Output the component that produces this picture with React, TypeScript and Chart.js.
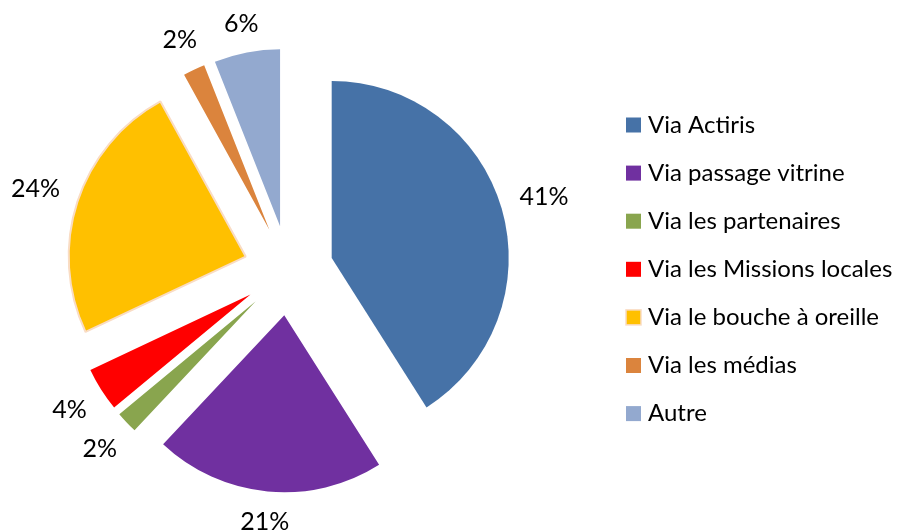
import React, { useEffect, useRef } from 'react';
import { Chart, registerables } from 'chart.js';

Chart.register(...registerables);

// ---- data ----
const categories = [
  'Via Actiris',
  'Via passage vitrine',
  'Via les partenaires',
  'Via les Missions locales',
  'Via le bouche à oreille',
  'Via les médias',
  'Autre',
];
const shares = [41, 21, 2, 4, 24, 2, 6];
const sliceColors = ['#4672A7', '#7030A0', '#89A54E', '#FF0000', '#FFC000', '#DB843D', '#93A9CF'];
const sliceBorderColors = ['#4672A7', '#7030A0', '#89A54E', '#FF0000', '#F9DCC4', '#DB843D', '#93A9CF'];
const sliceBorderWidths = [0, 0, 0, 0, 2, 0, 0];

// ---- styles ----
const FONT = 'Lato, "Open Sans", "DejaVu Sans", sans-serif';
const EXPLODE = 45;
const RADIUS = 177;
const LABEL_SIZE = 25;
const LABEL_GAP = 18;
const LEGEND_SIZE = 24;
const LEGEND_BOX_X = 626;
const LEGEND_FIRST_Y = 125;
const LEGEND_STEP = 48.1;
const LEGEND_BOX = 15;
const LEGEND_TEXT_X = 648;

const explodePlugin = {
  id: 'explodeSlices',
  beforeDatasetDraw(chart: any, args: any) {
    const ctx = chart.ctx;
    args.meta.data.forEach((arc: any) => {
      const mid = (arc.startAngle + arc.endAngle) / 2;
      ctx.save();
      ctx.translate(Math.cos(mid) * EXPLODE, Math.sin(mid) * EXPLODE);
      arc.draw(ctx, chart.chartArea);
      ctx.restore();
    });
    return false;
  },
};

const percentLabelPlugin = {
  id: 'percentLabels',
  afterDatasetsDraw(chart: any) {
    const ctx = chart.ctx;
    const meta = chart.getDatasetMeta(0);
    const values: number[] = chart.data.datasets[0].data;
    const total = values.reduce((a, b) => a + b, 0);
    ctx.save();
    ctx.font = `${LABEL_SIZE}px ${FONT}`;
    ctx.fillStyle = '#000000';
    ctx.textAlign = 'center';
    ctx.textBaseline = 'alphabetic';
    const capH = LABEL_SIZE * 0.72;
    meta.data.forEach((arc: any, i: number) => {
      const mid = (arc.startAngle + arc.endAngle) / 2;
      const ux = Math.cos(mid);
      const uy = Math.sin(mid);
      const text = `${Math.round((values[i] / total) * 100)}%`;
      const w = ctx.measureText(text).width;
      const ext = (Math.abs(ux) * w + Math.abs(uy) * capH) / 2;
      const d = EXPLODE + arc.outerRadius + LABEL_GAP + ext;
      const x = arc.x + ux * d;
      const y = arc.y + uy * d;
      ctx.fillText(text, x, y + capH / 2);
    });
    ctx.restore();
  },
};

const legendPlugin = {
  id: 'sideLegend',
  afterDraw(chart: any) {
    const ctx = chart.ctx;
    ctx.save();
    ctx.font = `${LEGEND_SIZE}px ${FONT}`;
    ctx.textAlign = 'left';
    ctx.textBaseline = 'alphabetic';
    categories.forEach((name, i) => {
      const cy = LEGEND_FIRST_Y + i * LEGEND_STEP;
      ctx.fillStyle = sliceColors[i];
      ctx.fillRect(LEGEND_BOX_X, cy - LEGEND_BOX / 2, LEGEND_BOX, LEGEND_BOX);
      if (sliceBorderWidths[i] > 0) {
        ctx.strokeStyle = sliceBorderColors[i];
        ctx.lineWidth = 1.5;
        ctx.strokeRect(LEGEND_BOX_X, cy - LEGEND_BOX / 2, LEGEND_BOX, LEGEND_BOX);
      }
      ctx.fillStyle = '#000000';
      ctx.fillText(name, LEGEND_TEXT_X, cy + LEGEND_BOX / 2);
    });
    ctx.restore();
  },
};

export default function App() {
  const canvasRef = useRef<HTMLCanvasElement>(null);

  useEffect(() => {
    document.body.style.margin = '0';
    const canvas = canvasRef.current;
    if (!canvas) return;
    const chart = new Chart(canvas, {
      type: 'pie',
      data: {
        labels: categories,
        datasets: [
          {
            data: shares,
            backgroundColor: sliceColors,
            borderColor: sliceBorderColors,
            borderWidth: sliceBorderWidths,
          },
        ],
      },
      options: {
        responsive: false,
        maintainAspectRatio: false,
        animation: false,
        devicePixelRatio: 1,
        radius: RADIUS,
        events: [],
        layout: { padding: { left: 0, right: 323, top: 9, bottom: 0 } },
        plugins: {
          legend: { display: false },
          tooltip: { enabled: false },
        },
      } as any,
      plugins: [explodePlugin, percentLabelPlugin, legendPlugin],
    });
    return () => chart.destroy();
  }, []);

  return (
    <div style={{ width: 900, height: 532, background: '#ffffff' }}>
      <canvas ref={canvasRef} width={900} height={532} style={{ display: 'block' }} />
    </div>
  );
}
